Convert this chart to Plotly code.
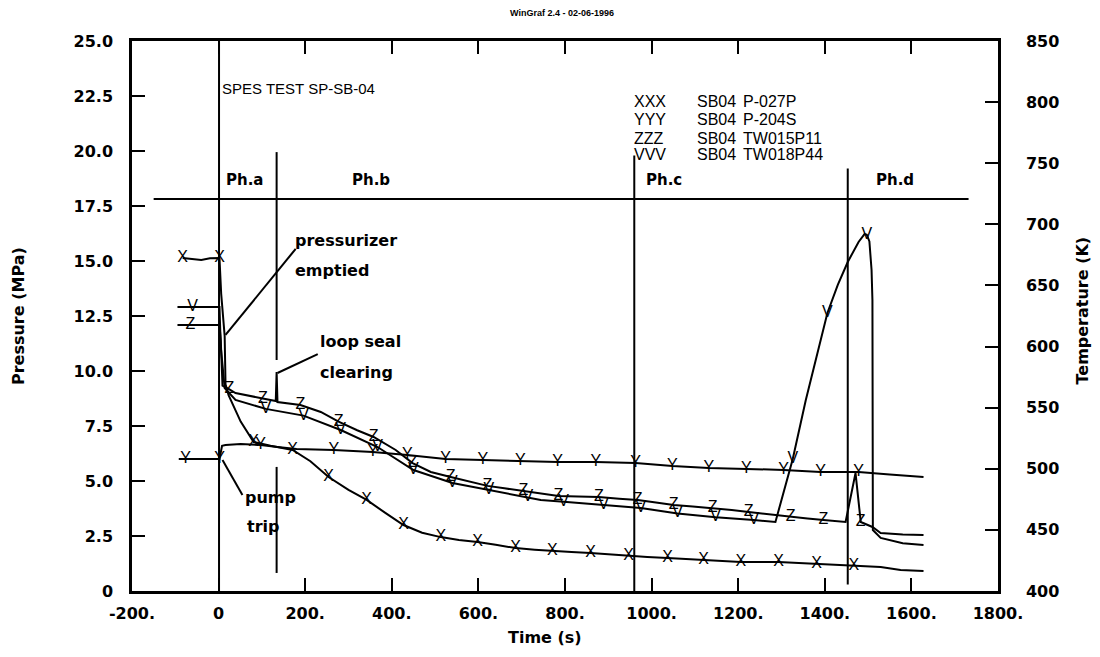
import plotly.graph_objects as go

# ---------------- data ----------------
# XXX  SB04 P-027P  (pressure, MPa)
xxx_t = [-83, -60, -40, -20, 2, 6, 14, 16, 23, 51, 81, 120, 171, 212, 254, 300, 342, 385, 427, 470,
         513, 555, 598, 640, 686, 730, 771, 815, 859, 903, 947, 990, 1037, 1080, 1120, 1165, 1206,
         1250, 1293, 1340, 1381, 1425, 1467, 1500, 1529, 1575, 1628]
xxx_p = [15.14, 15.08, 15.05, 15.12, 15.14, 13.5, 11.6, 9.4, 8.9, 7.7, 6.77, 6.6, 6.41, 5.9, 5.18,
         4.6, 4.14, 3.55, 3.0, 2.65, 2.45, 2.32, 2.23, 2.1, 1.95, 1.88, 1.82, 1.77, 1.73, 1.66, 1.59,
         1.55, 1.5, 1.45, 1.41, 1.36, 1.32, 1.32, 1.32, 1.27, 1.23, 1.18, 1.14, 1.12, 1.09, 0.95, 0.91]
xxx_marks = [-83, 2, 81, 171, 254, 342, 427, 513, 598, 686, 771, 859, 947, 1037, 1120, 1206, 1293,
             1381, 1467]

# YYY  SB04 P-204S  (pressure, MPa)
yyy_t = [-92, -76, 2, 8, 16, 51, 97, 136, 180, 266, 356, 436, 524, 610, 697, 783, 871, 963, 1048,
         1132, 1219, 1305, 1390, 1478, 1550, 1628]
yyy_p = [6.0, 6.0, 6.0, 6.6, 6.64, 6.68, 6.64, 6.55, 6.45, 6.41, 6.32, 6.18, 6.0, 5.95, 5.91, 5.86,
         5.86, 5.82, 5.68, 5.59, 5.55, 5.5, 5.41, 5.41, 5.3, 5.18]
yyy_marks = [-76, 2, 97, 266, 356, 436, 524, 610, 697, 783, 871, 963, 1048, 1132, 1219, 1305, 1390,
             1478]

# ZZZ  SB04 TW015P11  (temperature, K)
zzz_t = [-95, -65, 2, 5, 9, 25, 39, 102, 132, 134, 136, 189, 236, 277, 320, 358, 409, 448, 490, 536,
         580, 621, 660, 704, 745, 785, 830, 878, 925, 968, 1010, 1051, 1095, 1141, 1185, 1224, 1275,
         1321, 1360, 1397, 1448, 1471, 1483, 1510, 1529, 1580, 1628]
zzz_T = [617.6, 617.6, 617.6, 605, 568, 565, 562, 557.5, 555.5, 579.2, 554.6, 552.2, 546.5, 538.5,
         531.5, 526, 515.4, 504.7, 497.4, 493.3, 489.5, 486, 484, 481.8, 479.5, 477.7, 477.3, 476.9,
         475.5, 474.4, 472.5, 470.4, 469.2, 467.9, 466.2, 464.6, 462.5, 460.5, 459.3, 458.1, 456.5,
         496.5, 456.5, 452.4, 447.5, 446.3, 445.8]
zzz_marks = [-65, 25, 102, 189, 277, 358, 448, 536, 621, 704, 785, 878, 968, 1051, 1141, 1224, 1321,
             1397, 1483]

# VVV  SB04 TW018P44  (temperature, K)
vvv_t = [-95, -60, 2, 5, 14, 39, 109, 196, 282, 367, 450, 540, 624, 714, 744, 797, 889, 975, 1060,
         1148, 1236, 1286, 1326, 1356, 1406, 1430, 1453, 1478, 1492, 1497, 1503, 1508, 1510, 1511,
         1529, 1580, 1628]
vvv_T = [632.4, 632.4, 632.4, 600, 566.1, 556.3, 549, 543.5, 531.7, 517.8, 499, 488.4, 482.6, 476.9,
         474.5, 473, 470.6, 467.9, 463.5, 460.3, 458.1, 456.5, 508, 556, 627.5, 650.4, 669.2, 685.6,
         692.1, 691.5, 686, 662.6, 638.1, 449.9, 443.4, 439, 437.6]
vvv_marks = [-60, 109, 196, 282, 367, 450, 540, 624, 714, 797, 889, 975, 1060, 1148, 1236, 1326, 1406,
             1497]

# axes ticks
x_ticks = [-200, 0, 200, 400, 600, 800, 1000, 1200, 1400, 1600, 1800]
x_ticktext = ["-200.", "0", "200.", "400.", "600.", "800.", "1000.", "1200.", "1400.", "1600.", "1800."]
p_ticks = [0, 2.5, 5, 7.5, 10, 12.5, 15, 17.5, 20, 22.5, 25]
p_ticktext = ["0", "2.5", "5.0", "7.5", "10.0", "12.5", "15.0", "17.5", "20.0", "22.5", "25.0"]
t_ticks = [400, 450, 500, 550, 600, 650, 700, 750, 800, 850]
t_ticktext = ["400", "450", "500", "550", "600", "650", "700", "750", "800", "850"]

# phase markers (time s, pressure MPa)
phase_hline_t = [-150, 1732]
phase_hline_p = 17.82
phase_vline_t = [1, 134, 134, 960, 1453]
phase_vline_top = [25, 19.95, 5.64, 19.8, 19.2]
phase_vline_bot = [0, 10.5, 0.82, 0, 0.3]
phase_names = ["Ph.a", "Ph.b", "Ph.c", "Ph.d"]
phase_label_t = [12, 351, 1028, 1561]
phase_label_anchor = ["left", "center", "center", "center"]

legend_sym = ["XXX", "YYY", "ZZZ", "VVV"]
legend_src = ["SB04", "SB04", "SB04", "SB04"]
legend_name = ["P-027P", "P-204S", "TW015P11", "TW018P44"]
legend_rows_p = [22.23, 21.41, 20.59, 19.82]

# ---------------- figure ----------------
BOLD = "DejaVu Sans"
REG = "Liberation Sans, Arial, sans-serif"
LW = 2

fig = go.Figure()


def add_series(t, v, marks, letter, yaxis):
    fig.add_trace(go.Scatter(x=t, y=v, mode="lines", yaxis=yaxis,
                             line=dict(color="black", width=LW), showlegend=False,
                             hoverinfo="skip"))
    mt = [a for a in t if a in marks]
    mv = [b for a, b in zip(t, v) if a in marks]
    fig.add_trace(go.Scatter(x=mt, y=mv, mode="text", yaxis=yaxis, text=[letter] * len(mt),
                             textposition="middle center",
                             textfont=dict(family=REG, size=16, color="black"),
                             showlegend=False, hoverinfo="skip"))


add_series(xxx_t, xxx_p, xxx_marks, "X", "y")
add_series(yyy_t, yyy_p, yyy_marks, "Y", "y")
add_series(zzz_t, zzz_T, zzz_marks, "Z", "y2")
add_series(vvv_t, vvv_T, vvv_marks, "V", "y2")

shapes = []
shapes.append(dict(type="line", xref="x", yref="y", x0=phase_hline_t[0], x1=phase_hline_t[1],
                   y0=phase_hline_p, y1=phase_hline_p, line=dict(color="black", width=2)))
for t, top, bot in zip(phase_vline_t, phase_vline_top, phase_vline_bot):
    shapes.append(dict(type="line", xref="x", yref="y", x0=t, x1=t, y0=bot, y1=top,
                       line=dict(color="black", width=2)))

# annotation pointers (time, pressure)
pointers = [((178, 15.55), (16, 11.64)), ((229, 10.77), (136, 9.91)), ((55, 4.36), (9, 5.95))]
for (a, b) in pointers:
    shapes.append(dict(type="line", xref="x", yref="y", x0=a[0], y0=a[1], x1=b[0], y1=b[1],
                       line=dict(color="black", width=2)))

ann = []


def txt(x, y, s, font, size, bold=False, anchor="left", xref="x", yref="y", angle=0):
    ann.append(dict(x=x, y=y, xref=xref, yref=yref, text=s, showarrow=False, xanchor=anchor,
                    yanchor="middle", textangle=angle,
                    font=dict(family=font, size=size, color="black",
                              weight="bold" if bold else "normal")))


txt(0.4965, 1.051, "WinGraf 2.4 - 02-06-1996", "Liberation Sans Narrow, Liberation Sans", 9, True,
    "center", "paper", "paper")
txt(4, 22.86, "SPES TEST SP-SB-04", REG, 15)
for name, t, anc in zip(phase_names, phase_label_t, phase_label_anchor):
    txt(t, 18.7, name, BOLD, 15, True, anc)
for sym, src, nm, p in zip(legend_sym, legend_src, legend_name, legend_rows_p):
    txt(955, p, sym, REG, 16)
    txt(1100, p, src, REG, 16)
    txt(1206, p, nm, REG, 16)
txt(172, 15.95, "pressurizer", BOLD, 16, True)
txt(172, 14.59, "emptied", BOLD, 16, True)
txt(230, 11.32, "loop seal", BOLD, 16, True)
txt(230, 9.95, "clearing", BOLD, 16, True)
txt(56, 4.27, "pump", BOLD, 16, True)
txt(61, 2.91, "trip", BOLD, 16, True)
txt(-0.1316, 0.5, "Pressure (MPa)", BOLD, 16, True, "center", "paper", "paper", -90)
txt(1.097, 0.51, "Temperature (K)", BOLD, 16, True, "center", "paper", "paper", -90)
txt(0.477, -0.084, "Time (s)", BOLD, 16, True, "center", "paper", "paper")

axis_common = dict(showline=True, linecolor="black", linewidth=2.5, ticks="inside", ticklen=13,
                   tickwidth=2, tickcolor="black", showgrid=False, zeroline=False,
                   tickfont=dict(family=BOLD, size=16, color="black", weight="bold"))

# the page body has an 8 px margin: figure is sized so the plot lands where the reference has it
fig.update_layout(
    width=1092, height=649, autosize=False,
    margin=dict(l=124, r=102, t=33, b=66),
    paper_bgcolor="white", plot_bgcolor="white",
    showlegend=False,
    shapes=shapes, annotations=ann,
    xaxis=dict(range=[-200, 1800], tickvals=x_ticks, ticktext=x_ticktext, mirror="ticks",
               ticklabelstandoff=6, **axis_common),
    yaxis=dict(range=[0, 25], tickvals=p_ticks, ticktext=p_ticktext, mirror=False,
               ticklabelstandoff=13, **axis_common),
    yaxis2=dict(range=[400, 850], tickvals=t_ticks, ticktext=t_ticktext, overlaying="y",
                side="right", ticklabelstandoff=22, **axis_common),
)

fig.write_html("out.html")
